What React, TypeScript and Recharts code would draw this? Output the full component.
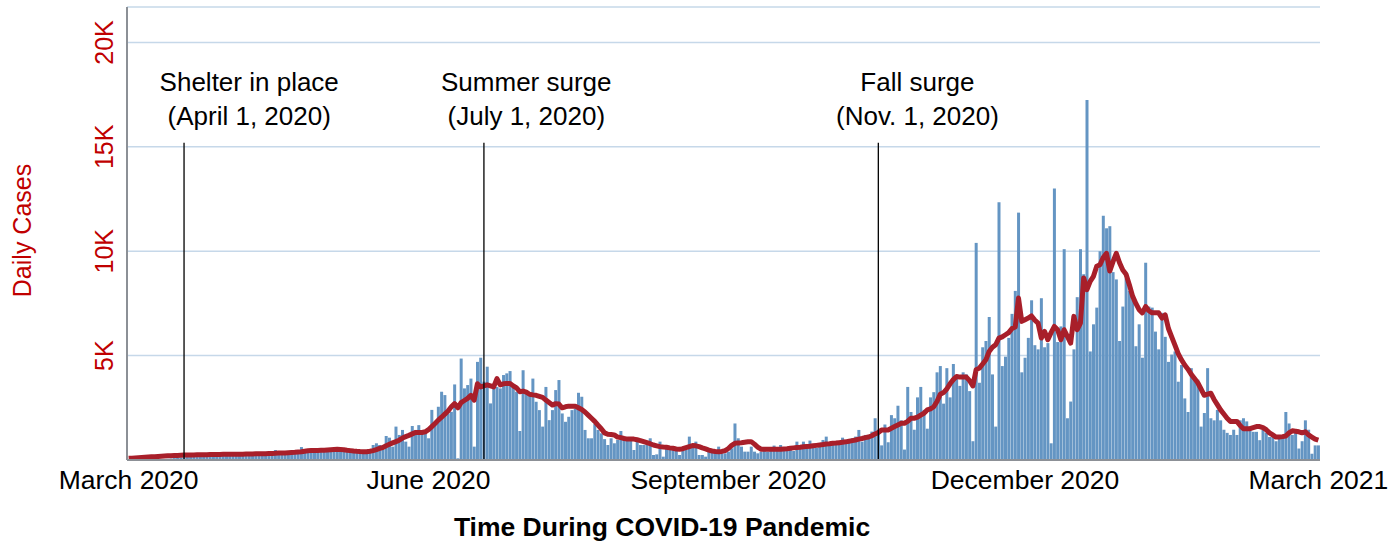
import React from 'react';
import {
  ComposedChart,
  Bar,
  Line,
  XAxis,
  YAxis,
  CartesianGrid,
  ReferenceLine,
  ReferenceDot,
} from 'recharts';

// daily new cases, one array per month
const mar20Cases = [0, 0, 0, 10, 10, 10, 20, 20, 30, 30, 40, 50, 60, 70, 90, 100, 120, 140, 150, 180, 200, 190, 230, 240, 220, 260, 250, 270, 240, 280, 260];
const apr20Cases = [270, 300, 240, 310, 290, 330, 260, 280, 320, 350, 300, 270, 330, 360, 480, 310, 290, 340, 370, 330, 300, 360, 620, 420, 380, 400, 350, 450, 420, 390];
const may20Cases = [460, 520, 440, 560, 410, 480, 380, 450, 420, 350, 390, 300, 300, 350, 720, 800, 720, 480, 1150, 1070, 640, 1600, 1200, 1440, 880, 640, 1630, 1440, 1670, 1390, 1280];
const jun20Cases = [1040, 2400, 1830, 2550, 3270, 3110, 2230, 2310, 3620, 80, 4860, 3430, 3590, 3900, 640, 4700, 4900, 3750, 4470, 2710, 3430, 3500, 3430, 4070, 4150, 4260, 3590, 3270, 1390, 4300];
const jul20Cases = [3350, 3110, 3900, 2790, 2390, 1600, 3500, 1910, 2390, 3350, 3830, 2230, 1830, 2070, 2390, 2470, 3220, 3030, 1440, 1040, 1040, 1720, 1440, 1280, 1000, 720, 1040, 800, 960, 1390, 1070];
const aug20Cases = [1000, 1040, 480, 880, 720, 720, 750, 1040, 240, 270, 880, 160, 560, 480, 480, 560, 240, 560, 480, 1120, 720, 880, 240, 240, 160, 560, 480, 480, 640, 320, 320];
const sep20Cases = [400, 560, 1750, 1040, 640, 400, 400, 640, 400, 320, 400, 480, 400, 480, 690, 480, 720, 560, 480, 560, 430, 880, 720, 880, 560, 930, 640, 590, 800, 960];
const oct20Cases = [1120, 720, 880, 880, 830, 1070, 960, 960, 1040, 1120, 1440, 880, 1200, 1200, 1360, 2000, 1450, 700, 1700, 850, 2150, 2000, 2600, 1900, 500, 3500, 2300, 1450, 3000, 3500, 2400];
const nov20Cases = [1500, 3000, 3250, 4200, 4500, 2700, 4400, 3000, 4600, 3900, 3550, 4200, 4100, 3300, 900, 10400, 3700, 5400, 5700, 6850, 4100, 1600, 12350, 4500, 4950, 5850, 7000, 8100, 11850, 4200];
const dec20Cases = [4900, 5850, 7650, 5500, 5300, 7750, 5400, 5600, 800, 13000, 5650, 6400, 10100, 2000, 2800, 5300, 7800, 10100, 8900, 17250, 5200, 6500, 7300, 10000, 11700, 11100, 11200, 9000, 8650, 5700, 7350];
const jan21Cases = [8700, 8100, 7700, 5450, 6500, 4900, 9450, 7350, 7300, 6150, 5300, 7050, 5900, 4700, 5050, 5200, 3750, 4550, 2950, 2300, 4400, 4000, 3850, 1600, 2250, 4400, 2000, 1900, 2400, 1900, 1450];
const feb21Cases = [1300, 1200, 1450, 1200, 1900, 2000, 1850, 1600, 1350, 1350, 950, 1450, 1300, 1100, 1100, 900, 1200, 1100, 2300, 1750, 1200, 1450, 550, 900, 1900, 1450, 300, 700];
const mar21Cases = [700];

// 7-day average (red line)
const mar20Avg = [80, 90, 100, 110, 120, 130, 140, 150, 160, 170, 180, 190, 200, 205, 210, 215, 225, 235, 240, 245, 245, 250, 250, 255, 255, 260, 260, 265, 265, 270, 270];
const apr20Avg = [270, 275, 275, 280, 280, 285, 290, 290, 295, 300, 300, 305, 310, 315, 320, 330, 335, 340, 350, 360, 370, 385, 400, 420, 440, 450, 455, 460, 465, 470];
const may20Avg = [480, 490, 500, 510, 505, 495, 470, 450, 430, 415, 405, 400, 400, 420, 450, 500, 560, 600, 680, 750, 820, 880, 950, 1050, 1120, 1180, 1250, 1320, 1320, 1320, 1350];
const jun20Avg = [1450, 1600, 1750, 1910, 2050, 2200, 2350, 2550, 2700, 2500, 2750, 2850, 2950, 3100, 2870, 3650, 3500, 3550, 3600, 3550, 3500, 3900, 3600, 3650, 3670, 3670, 3550, 3450, 3270, 3300];
const jul20Avg = [3250, 3150, 3120, 3100, 3050, 3000, 2870, 2750, 2630, 2700, 2680, 2500, 2550, 2580, 2580, 2580, 2500, 2420, 2300, 2150, 2000, 1850, 1670, 1500, 1300, 1230, 1220, 1200, 1100, 1070, 1030];
const aug20Avg = [1000, 1000, 1000, 970, 930, 880, 830, 780, 720, 680, 640, 620, 610, 580, 560, 530, 510, 540, 590, 640, 690, 680, 640, 580, 530, 470, 430, 410, 400, 410, 450];
const sep20Avg = [550, 700, 800, 820, 830, 850, 870, 880, 760, 620, 520, 510, 510, 510, 510, 520, 520, 530, 540, 560, 580, 600, 610, 630, 650, 660, 680, 700, 720, 740];
const oct20Avg = [770, 780, 800, 810, 830, 850, 870, 900, 930, 960, 1000, 1030, 1070, 1100, 1160, 1250, 1320, 1440, 1440, 1440, 1520, 1600, 1680, 1760, 1760, 1850, 2000, 2000, 2050, 2150, 2240];
const nov20Avg = [2400, 2450, 2550, 2800, 3150, 3230, 3400, 3650, 3850, 4000, 3970, 3970, 3970, 3800, 3550, 4320, 4400, 4600, 4800, 5200, 5400, 5520, 5840, 5900, 6000, 6100, 6300, 6370, 7760, 6640];
const dec20Avg = [6720, 6800, 6900, 6700, 6560, 5840, 6160, 5760, 6100, 6400, 6240, 5760, 6240, 5920, 5600, 6880, 6240, 6560, 8720, 8160, 8560, 8800, 9280, 9350, 9700, 9900, 9050, 9500, 9900, 9450, 9100];
const jan21Avg = [8900, 8400, 7850, 7500, 7200, 7050, 7350, 7150, 7050, 7050, 7050, 6800, 6950, 6300, 5900, 5500, 5100, 4800, 4550, 4350, 4100, 3900, 3700, 3400, 3100, 3150, 3200, 2900, 2650, 2400, 2200];
const feb21Avg = [2000, 1850, 1850, 1850, 1650, 1500, 1500, 1500, 1550, 1600, 1600, 1550, 1450, 1300, 1200, 1100, 1100, 1120, 1150, 1300, 1400, 1380, 1350, 1300, 1350, 1200, 1100, 1000];
const mar21Avg = [950];

const xTicks = ['2020-03-01', '2020-06-01', '2020-09-01', '2020-12-01', '2021-03-01'];
const xTickLabels = ['March 2020', 'June 2020', 'September 2020', 'December 2020', 'March 2021'];
const yTicks = [5000, 10000, 15000, 20000];

const annotations = [
  { lineDate: '2020-03-18', textDate: '2020-04-07', title: 'Shelter in place', sub: '(April 1, 2020)' },
  { lineDate: '2020-06-18', textDate: '2020-07-01', title: 'Summer surge', sub: '(July 1, 2020)' },
  { lineDate: '2020-10-17', textDate: '2020-10-29', title: 'Fall surge', sub: '(Nov. 1, 2020)' },
];

const FONT = '"Liberation Sans", Arial, sans-serif';
const RED = '#c00000';

const START = Date.UTC(2020, 2, 1);
const dayKey = (i: number) => new Date(START + i * 86400000).toISOString().slice(0, 10);

const dailyCases = [
  ...mar20Cases, ...apr20Cases, ...may20Cases, ...jun20Cases, ...jul20Cases, ...aug20Cases,
  ...sep20Cases, ...oct20Cases, ...nov20Cases, ...dec20Cases, ...jan21Cases, ...feb21Cases, ...mar21Cases,
];
const sevenDayAvg = [
  ...mar20Avg, ...apr20Avg, ...may20Avg, ...jun20Avg, ...jul20Avg, ...aug20Avg,
  ...sep20Avg, ...oct20Avg, ...nov20Avg, ...dec20Avg, ...jan21Avg, ...feb21Avg, ...mar21Avg,
];

const chartData = dailyCases.map((cases, i) => ({ date: dayKey(i), cases, avg: sevenDayAvg[i] }));

function XTick({ x, y, payload }: any) {
  const idx = xTicks.indexOf(payload.value);
  return (
    <text x={x} y={y + 29} textAnchor='middle' fontSize={26.5} fontFamily={FONT} fill='#000'>
      {xTickLabels[idx]}
    </text>
  );
}

function YTick({ x, y, payload }: any) {
  const tx = x - 14;
  return (
    <text
      x={tx}
      y={y}
      transform={`rotate(-90, ${tx}, ${y})`}
      textAnchor='middle'
      fontSize={25}
      fontFamily={FONT}
      fill={RED}
    >
      {`${payload.value / 1000}K`}
    </text>
  );
}

function AnnotationText({ viewBox, title, sub }: any) {
  const { x, y } = viewBox;
  return (
    <text textAnchor='middle' fontSize={26} fontFamily={FONT} fill='#000'>
      <tspan x={x} y={y}>{title}</tspan>
      <tspan x={x} y={y + 34}>{sub}</tspan>
    </text>
  );
}

export default function App() {
  return (
    <div style={{ position: 'absolute', left: 0, top: 0, background: '#fff' }}>
      <ComposedChart
        width={1398}
        height={546}
        data={chartData}
        margin={{ top: 7, right: 78, bottom: 0, left: 0 }}
        barCategoryGap='6%'
      >
        <CartesianGrid vertical={false} stroke='#c6d8e9' strokeWidth={1.5} />
        <XAxis
          dataKey='date'
          ticks={xTicks}
          interval={0}
          height={86}
          tickLine={false}
          tickSize={0}
          tickMargin={0}
          axisLine={{ stroke: '#8c9096', strokeWidth: 2 }}
          tick={<XTick />}
          label={(props: any) => (
            <text
              x={props.viewBox.x + 535}
              y={props.viewBox.y + 76}
              textAnchor='middle'
              fontSize={26.5}
              fontWeight='bold'
              fontFamily={FONT}
              fill='#000'
            >
              Time During COVID-19 Pandemic
            </text>
          )}
        />
        <YAxis
          width={127}
          domain={[0, 21700]}
          ticks={yTicks}
          interval={0}
          tickLine={false}
          tickSize={0}
          tickMargin={0}
          axisLine={{ stroke: '#8c9096', strokeWidth: 2 }}
          tick={<YTick />}
          label={(props: any) => {
            const lx = props.viewBox.x + 31;
            const ly = props.viewBox.y + props.viewBox.height / 2 - 3;
            return (
              <text
                x={lx}
                y={ly}
                transform={`rotate(-90, ${lx}, ${ly})`}
                textAnchor='middle'
                fontSize={25}
                fontFamily={FONT}
                fill={RED}
              >
                Daily Cases
              </text>
            );
          }}
        />
        <Bar dataKey='cases' fill='#6495c3' isAnimationActive={false} />
        <Line
          type='linear'
          dataKey='avg'
          stroke='#a81f2a'
          strokeWidth={5}
          strokeLinejoin='round'
          dot={false}
          activeDot={false}
          isAnimationActive={false}
        />
        {annotations.map((a) => (
          <ReferenceLine
            key={`line-${a.lineDate}`}
            segment={[
              { x: a.lineDate, y: 15200 },
              { x: a.lineDate, y: 0 },
            ]}
            stroke='#000'
            strokeWidth={1.3}
          />
        ))}
        {annotations.map((a) => (
          <ReferenceDot
            key={`text-${a.textDate}`}
            x={a.textDate}
            y={17700}
            r={0}
            fill='none'
            stroke='none'
            label={(props: any) => <AnnotationText {...props} title={a.title} sub={a.sub} />}
          />
        ))}
      </ComposedChart>
    </div>
  );
}
